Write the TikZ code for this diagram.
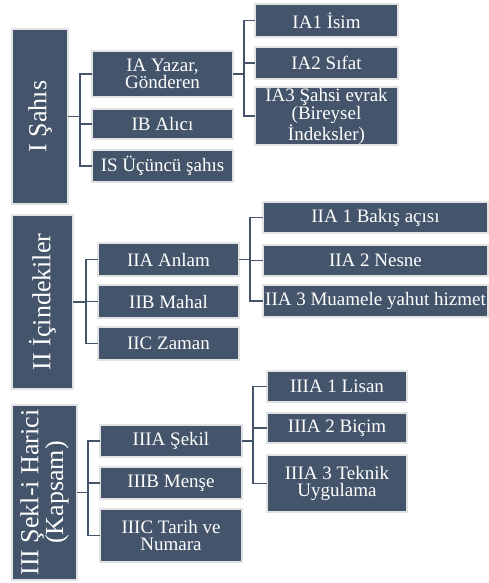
\documentclass[tikz,border=0pt]{standalone}
\usepackage{fontspec}
\setmainfont{Liberation Serif}
\definecolor{slate}{HTML}{44546A}
\definecolor{rim}{HTML}{E2E2E2}
\begin{document}
\begin{tikzpicture}[x=1pt,y=-1pt,
  box/.style={fill=slate, draw=rim, line width=1.5pt, inner sep=0pt, outer sep=0pt, text=white, align=center, font=\fontsize{19}{16.5}\selectfont},
  big/.style={text=white, align=center, font=\fontsize{26}{23}\selectfont, rotate=90, inner sep=0pt},
  conn/.style={draw=slate, line width=1.8pt}]
\useasboundingbox (0,0) rectangle (489,583);
% Section I
\node[box, minimum width=56pt, minimum height=175pt] (I) at (40,116.5) {};
\node[big] (Ilab) at (I.center) {I Şahıs};
\node[box, minimum width=141pt, minimum height=46pt] (IA) at (162.5,74) {IA Yazar,\\Gönderen};
\node[box, minimum width=141pt, minimum height=30pt] (IB) at (162.5,124) {IB Alıcı};
\node[box, minimum width=141pt, minimum height=32pt] (IS) at (162.5,166) {IS Üçüncü şahıs};
\node[box, minimum width=143pt, minimum height=33pt] (IA1) at (326.5,20.5) {IA1 İsim};
\node[box, minimum width=143pt, minimum height=32pt] (IA2) at (326.5,63) {IA2 Sıfat};
\node[box, minimum width=143pt, minimum height=58pt] (IA3) at (326.5,116) {IA3 Şahsi evrak\\(Bireysel\\İndeksler)};
% Section II
\node[box, minimum width=61pt, minimum height=174pt] (II) at (42.5,302) {};
\node[big] (IIlab) at (II.center) {II İçindekiler};
\node[box, minimum width=141pt, minimum height=33pt] (IIA) at (168.5,259.5) {IIA Anlam};
\node[box, minimum width=141pt, minimum height=33pt] (IIB) at (168.5,301.5) {IIB Mahal};
\node[box, minimum width=141pt, minimum height=33pt] (IIC) at (168.5,343.5) {IIC Zaman};
\node[box, minimum width=225pt, minimum height=31pt] (IIA1) at (375.5,217.5) {IIA 1 Bakış açısı};
\node[box, minimum width=225pt, minimum height=31pt] (IIA2) at (375.5,260.5) {IIA 2 Nesne};
\node[box, minimum width=225pt, minimum height=32pt] (IIA3) at (375.5,301) {IIA 3 Muamele yahut hizmet};
% Section III
\node[box, minimum width=65pt, minimum height=175pt] (III) at (44.5,492.5) {};
\node[big] (IIIlab) at (III.center) {III Şekl-i Harici\\(Kapsam)};
\node[box, minimum width=142pt, minimum height=32pt] (IIIA) at (171,441) {IIIA Şekil};
\node[box, minimum width=142pt, minimum height=32pt] (IIIB) at (171,483) {IIIB Menşe};
\node[box, minimum width=142pt, minimum height=53pt] (IIIC) at (171,535.5) {IIIC Tarih ve\\Numara};
\node[box, minimum width=140pt, minimum height=31pt] (IIIA1) at (337,386.5) {IIIA 1 Lisan};
\node[box, minimum width=140pt, minimum height=30pt] (IIIA2) at (337,428) {IIIA 2 Biçim};
\node[box, minimum width=140pt, minimum height=57pt] (IIIA3) at (337,483.5) {IIIA 3 Teknik\\Uygulama};
% Connectors
\foreach \c in {IA,IB,IS} \draw[conn] (I.east) -- ++(12,0) |- (\c.west);
\foreach \c in {IA1,IA2,IA3} \draw[conn] (IA.east) -- ++(11,0) |- (\c.west);
\foreach \c in {IIA,IIB,IIC} \draw[conn] (II.east) -- ++(13,0) |- (\c.west);
\foreach \c in {IIA1,IIA2,IIA3} \draw[conn] (IIA.east) -- ++(11,0) |- (\c.west);
\foreach \c in {IIIA,IIIB,IIIC} \draw[conn] (III.east) -- ++(11,0) |- (\c.west);
\foreach \c in {IIIA1,IIIA2,IIIA3} \draw[conn] (IIIA.east) -- ++(11,0) |- (\c.west);
\end{tikzpicture}
\end{document}
